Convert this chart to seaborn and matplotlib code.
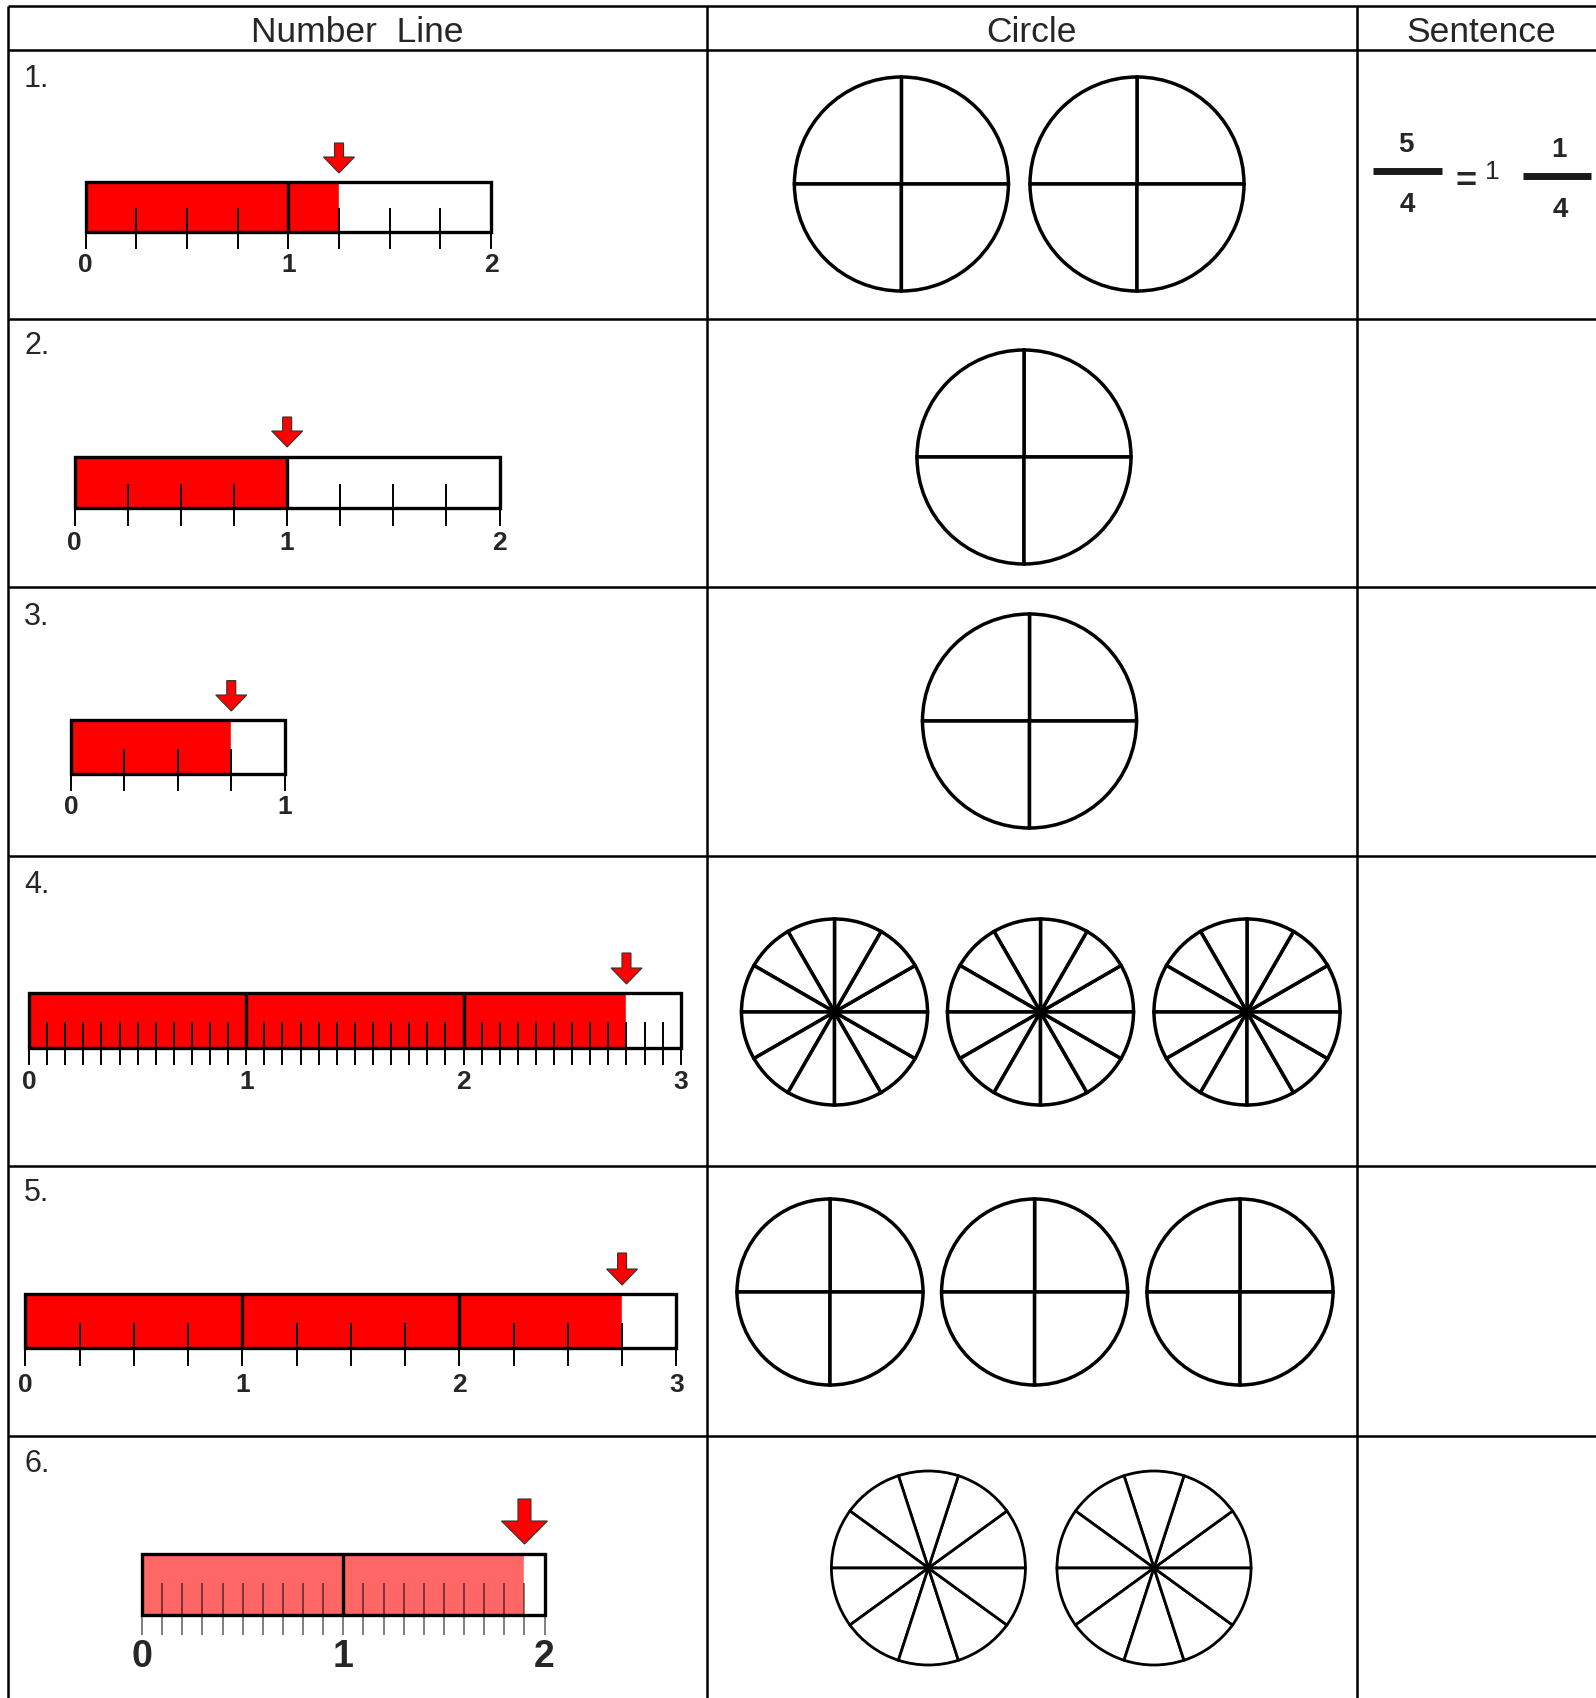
import numpy as np
import matplotlib.pyplot as plt
import seaborn as sns
from matplotlib.patches import Polygon, Rectangle

# datos de la hoja
encabezados = ["Number  Line", "Circle", "Sentence"]
filas = ["1.", "2.", "3.", "4.", "5.", "6."]
maximos = [2, 2, 1, 3, 3, 2]            # final de cada recta numerica
divisiones = [4, 4, 4, 12, 4, 10]       # partes por unidad
valores = [5/4, 4/4, 3/4, 33/12, 11/4, 19/10]
num_circulos = [2, 1, 1, 3, 3, 2]
partes_circulo = [4, 4, 4, 12, 4, 10]
frac_izq = ["5", "4"]
frac_der = ["1", "1", "4"]   # entero, numerador, denominador

W, H = 1596, 1699

# posiciones (pixeles) de cada recta: izq, der, arriba, abajo, tick interno, fin tick, base etiqueta, flecha arriba, punta
lineas = [
    (85.7, 491.0, 182.7, 233.3, 209, 250, 271.7, 144, 174),
    (74.8, 499.5, 457.7, 508.7, 485, 526.6, 550, 418, 448),
    (71.0, 284.7, 721, 774.5, 750, 792, 814, 681.6, 712),
    (29.0, 680.8, 994, 1049, 1023, 1066, 1089.3, 954, 985),
    (25.3, 676.3, 1295, 1349.3, 1324, 1367, 1391.7, 1254, 1286),
    (142.0, 544.6, 1555, 1616, 1584, 1636, 1666.7, 1500, 1545),
]
centros_x = [[901.4, 1137], [1024], [1029.5], [834.5, 1040.5, 1247], [830, 1034.6, 1240], [928.4, 1154]]
centros_y = [185, 458, 722, 1013, 1293, 1569]
radios = [107, 107, 107, 93, 93, 97]
etiqueta_y = [87, 354, 625, 892.7, 1200.7, 1472.3]

sns.set_theme(style="white")
plt.rcParams['font.family'] = ['Liberation Sans', 'DejaVu Sans']
narrow = ['Liberation Sans Narrow', 'Liberation Sans', 'DejaVu Sans']


def rect(x0, y0, x1, y1):
    return [x0 / W, 1 - y1 / H, (x1 - x0) / W, (y1 - y0) / H]


fig = plt.figure(figsize=(W / 100, H / 100), dpi=100)
fig.patch.set_facecolor("white")

# tabla
ax0 = fig.add_axes([0, 0, 1, 1])
ax0.set_xlim(0, W)
ax0.set_ylim(H, 0)
ax0.axis('off')
for x in [7.6, 706.8, 1356.7]:
    ax0.vlines(x, 6.7, H, color='black', lw=1.8)
for y in [6.7, 51, 319.6, 588.3, 857, 1166.9, 1436.7]:
    ax0.hlines(y, 7.6, W, color='black', lw=1.8)
for texto, cx in zip(encabezados, [357, 1032, 1481]):
    ax0.text(cx, 41.7, texto, ha='center', va='baseline', fontsize=25.5)
for texto, y in zip(filas, etiqueta_y):
    ax0.text(24, y, texto, ha='left', va='baseline', fontsize=22)

# oracion de la fila 1
ax0.text(1406, 152, frac_izq[0], ha='center', va='baseline', fontsize=20, fontweight='bold', family=narrow)
ax0.hlines(171.7, 1373, 1441.7, color='#1a1a1a', lw=5)
ax0.text(1407, 212, frac_izq[1], ha='center', va='baseline', fontsize=20, fontweight='bold', family=narrow)
ax0.text(1466, 192, "=", ha='center', va='baseline', fontsize=26, fontweight='bold', family=narrow)
ax0.text(1492, 179.3, frac_der[0], ha='center', va='baseline', fontsize=19, family=narrow)
ax0.text(1559, 157, frac_der[1], ha='center', va='baseline', fontsize=20, fontweight='bold', family=narrow)
ax0.hlines(176.7, 1523, 1591.4, color='#1a1a1a', lw=5)
ax0.text(1560, 217, frac_der[2], ha='center', va='baseline', fontsize=20, fontweight='bold', family=narrow)

# rectas numericas
for i in range(len(filas)):
    L, R, top, bot, itop, tbot, lab, atop, atip = lineas[i]
    mx, d, v = maximos[i], divisiones[i], valores[i]
    ax = fig.add_axes(rect(L, atop - 5, R, lab + 10))
    ax.set_xlim(0, mx)
    ax.set_ylim(lab + 10, atop - 5)
    ax.axis('off')
    ppu = (R - L) / mx
    if i == 5:
        relleno, tcol, talpha, fsize = '#ff6666', 'black', 0.5, 27
        shaft, head, head_h = 13, 46, 23
    else:
        relleno, tcol, talpha, fsize = '#ff0000', 'black', 1.0, 19
        shaft, head, head_h = 9, 31, 16
    ax.barh((top + bot) / 2, v, height=bot - top, left=0, color=relleno, zorder=1)
    pos = np.arange(0, mx * d + 1) / d
    sub = [p for p in pos if abs(p - round(p)) > 1e-9]
    ax.vlines(sub, itop, tbot, color=tcol, alpha=talpha, lw=1.4, zorder=2, clip_on=False)
    ax.vlines(list(range(0, mx + 1)), bot, tbot, color=tcol, alpha=talpha, lw=1.4, zorder=2, clip_on=False)
    ax.vlines(list(range(1, mx)), top, bot, color='black', lw=2.4, zorder=3)
    ax.add_patch(Rectangle((0, top), mx, bot - top, fill=False, ec='black', lw=2.4, zorder=4, clip_on=False))
    for k in range(0, mx + 1):
        ax.text(k, lab, str(k), ha='center', va='baseline', fontsize=fsize, fontweight='bold', family=narrow)
    sw, hw = shaft / 2 / ppu, head / 2 / ppu
    pts = [(v - sw, atop), (v + sw, atop), (v + sw, atip - head_h), (v + hw, atip - head_h),
           (v, atip), (v - hw, atip - head_h), (v - sw, atip - head_h)]
    ax.add_patch(Polygon(pts, closed=True, fc='red', ec='#333333', lw=0.8, zorder=5, clip_on=False))

# circulos
for i in range(len(filas)):
    r, cy = radios[i], centros_y[i]
    lw = 2.0 if i == 5 else 2.5
    for cx in centros_x[i]:
        m = 8
        ax = fig.add_axes(rect(cx - r - m, cy - r - m, cx + r + m, cy + r + m))
        ax.pie([1] * partes_circulo[i], colors=['white'], startangle=0, radius=1,
               wedgeprops=dict(edgecolor='black', linewidth=lw))
        lim = (r + m) / r
        ax.set_xlim(-lim, lim)
        ax.set_ylim(-lim, lim)
        ax.axis('off')

fig.savefig("out.png", dpi=100, facecolor="white")
